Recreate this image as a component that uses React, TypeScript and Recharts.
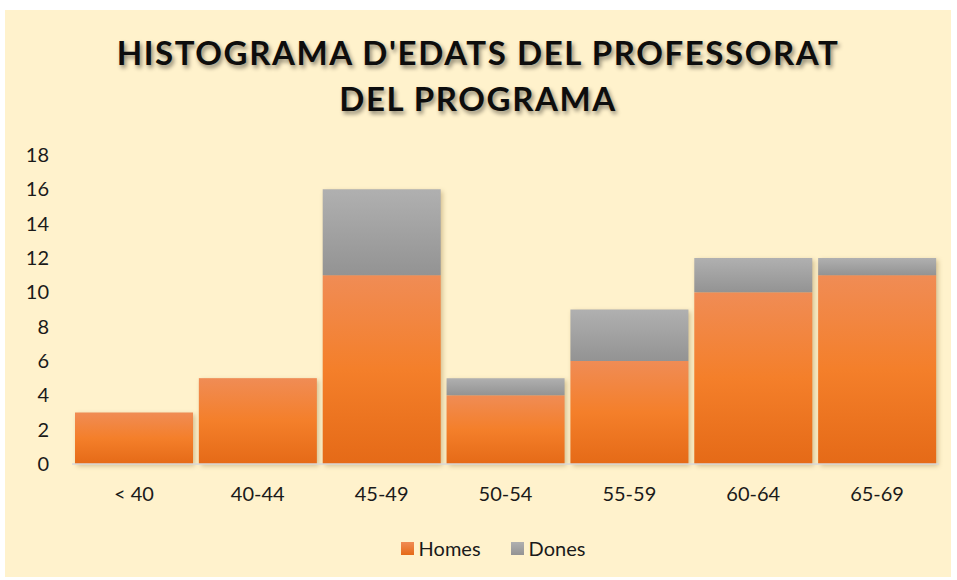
import { BarChart, Bar, XAxis, YAxis, Legend } from "recharts";

const categories = ["< 40", "40-44", "45-49", "50-54", "55-59", "60-64", "65-69"];
const homes = [3, 5, 11, 4, 6, 10, 11];
const dones = [0, 0, 5, 1, 3, 2, 1];
const yTicks = [0, 2, 4, 6, 8, 10, 12, 14, 16, 18];

const data = categories.map((name, i) => ({ name, Homes: homes[i], Dones: dones[i] }));

const FONT = "Lato, 'Open Sans', sans-serif";

// orange bar draws the drop shadow for the whole stack so the gray part sits on top cleanly
function HomesShape(props: any) {
  const { x, y, width, height, payload } = props;
  if (!height) return null;
  const unit = height / payload.Homes;
  const total = unit * (payload.Homes + payload.Dones);
  const top = y + height - total;
  return (
    <g>
      <rect x={x} y={top} width={width} height={total} fill="#b59d68" filter="url(#barShadow)" />
      <rect x={x} y={y} width={width} height={height} fill="url(#gradHomes)" />
    </g>
  );
}

function LegendContent() {
  const items = [
    { label: "Homes", c1: "#F08C55", c2: "#E56A17" },
    { label: "Dones", c1: "#B0B0B0", c2: "#939393" },
  ];
  return (
    <div style={{ display: "flex", justifyContent: "center", gap: 30, fontFamily: FONT, fontSize: 20, color: "#1a1a1a" }}>
      {items.map((it) => (
        <div key={it.label} style={{ display: "flex", alignItems: "center" }}>
          <span
            style={{
              display: "inline-block",
              width: 13,
              height: 13,
              marginRight: 5,
              background: `linear-gradient(${it.c1}, ${it.c2})`,
            }}
          />
          <span>{it.label}</span>
        </div>
      ))}
    </div>
  );
}

export default function App() {
  return (
    <div
      style={{
        position: "absolute",
        left: 5,
        top: 10,
        width: 946,
        height: 567,
        background: "#FFF2CC",
        overflow: "hidden",
      }}
    >
      <div
        style={{
          position: "absolute",
          left: 0,
          top: 19,
          width: 946,
          textAlign: "center",
          fontFamily: FONT,
          fontWeight: 700,
          fontSize: 33,
          lineHeight: "46px",
          letterSpacing: 1.6,
          color: "#0d0d0d",
          textShadow: "2px 3px 4px rgba(0,0,0,0.45)",
        }}
      >
        HISTOGRAMA D'EDATS DEL PROFESSORAT
        <br />
        DEL PROGRAMA
      </div>
      <div style={{ position: "absolute", left: 0, top: 0 }}>
        <BarChart
          width={946}
          height={567}
          data={data}
          margin={{ top: 145, right: 12, left: 0, bottom: 17 }}
          barCategoryGap={3}
        >
          <defs>
            <linearGradient id="gradHomes" x1="0" y1="0" x2="0" y2="1">
              <stop offset="0%" stopColor="#F08C55" />
              <stop offset="50%" stopColor="#F47F2A" />
              <stop offset="100%" stopColor="#E56A17" />
            </linearGradient>
            <linearGradient id="gradDones" x1="0" y1="0" x2="0" y2="1">
              <stop offset="0%" stopColor="#B0B0B0" />
              <stop offset="100%" stopColor="#939393" />
            </linearGradient>
            <filter id="barShadow" x="-20%" y="-20%" width="140%" height="140%">
              <feGaussianBlur stdDeviation="2.5" />
              <feOffset dx="1.5" dy="1.5" result="b" />
              <feComponentTransfer>
                <feFuncA type="linear" slope="0.6" />
              </feComponentTransfer>
            </filter>
          </defs>
          <XAxis
            dataKey="name"
            tickLine={false}
            tickSize={0}
            tickMargin={23}
            height={72}
            axisLine={{ stroke: "#D9D9D9", strokeWidth: 1.5 }}
            tick={{ fill: "#1a1a1a", fontSize: 20, fontFamily: FONT }}
            interval={0}
          />
          <YAxis
            domain={[0, 18]}
            ticks={yTicks}
            width={67}
            axisLine={false}
            tickLine={false}
            tickSize={0}
            tickMargin={23}
            tick={{ fill: "#1a1a1a", fontSize: 20, fontFamily: FONT }}
            interval={0}
          />
          <Legend verticalAlign="bottom" height={24} content={<LegendContent />} wrapperStyle={{ left: 0, width: 976 }} />
          <Bar dataKey="Homes" stackId="a" shape={HomesShape} isAnimationActive={false} />
          <Bar dataKey="Dones" stackId="a" fill="url(#gradDones)" isAnimationActive={false} />
        </BarChart>
      </div>
    </div>
  );
}
